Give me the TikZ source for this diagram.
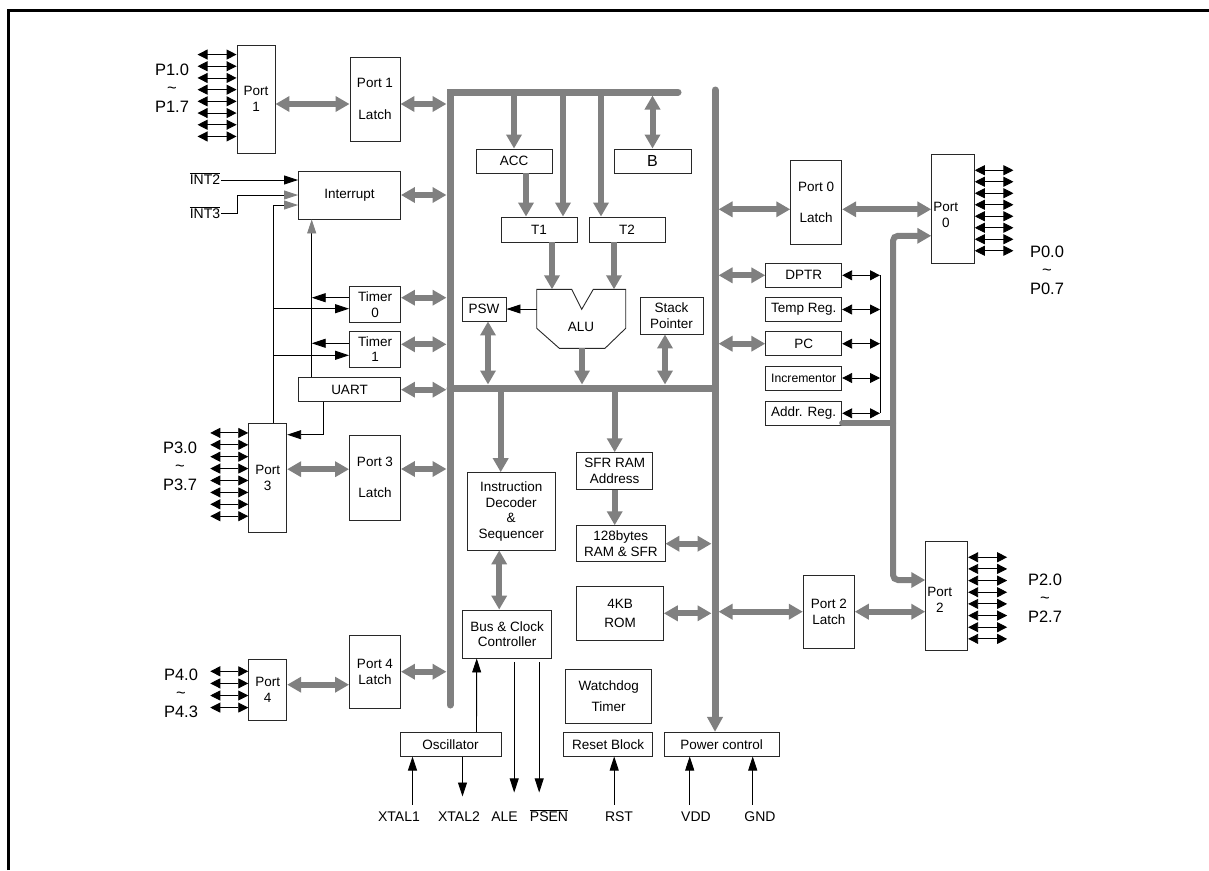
\documentclass[tikz,border=0pt]{standalone}
\usepackage{fontspec}
\setmainfont{Liberation Sans}
\usetikzlibrary{arrows.meta,calc}
\definecolor{busgray}{RGB}{128,128,128}
\definecolor{boxline}{RGB}{40,40,40}
\newcommand{\blkfont}{\fontsize{13.5}{15.5}\selectfont}
\newcommand{\smlfont}{\fontsize{12.2}{14}\selectfont}
\newcommand{\bigfont}{\fontsize{16}{18}\selectfont}
\newcommand{\pinfont}{\fontsize{16.5}{18.5}\selectfont}
\newcommand{\sigfont}{\fontsize{14}{16}\selectfont}
\tikzset{
  blk/.style 2 args={draw=boxline, line width=0.9pt, fill=white, font=\blkfont,
                     align=center, inner sep=1pt, minimum width=#1, minimum height=#2},
  plabel/.style={font=\pinfont, align=center, inner sep=0pt},
  slabel/.style={font=\sigfont, inner sep=1pt},
  busline/.style={draw=busgray, line width=7pt, line cap=round},
  gbi/.style={draw=busgray, line width=6pt,
              {Triangle[length=14pt,width=15pt]}-{Triangle[length=14pt,width=15pt]}},
  gone/.style={draw=busgray, line width=6pt, -{Triangle[length=14pt,width=15pt]}},
  sig/.style={draw=black, line width=0.9pt, -{Triangle[length=14pt,width=9pt]}},
  sigg/.style={draw=black, line width=0.9pt, -{Triangle[length=14pt,width=9pt,color=busgray]}},
  pin/.style={draw=black, line width=0.9pt,
              {Triangle[length=10pt,width=10pt]}-{Triangle[length=10pt,width=10pt]}},
}

\begin{document}
\begin{tikzpicture}[x=1pt, y=-1pt]
\useasboundingbox (0,0) rectangle (1209,870);

% frame
\draw[line width=3pt] (8,870) -- (8,10) -- (1209,10);

% bus corners and contact lines
\coordinate (lbb) at (450,705);
\coordinate (ltl) at (450,92);
\coordinate (ltr) at (678,92);
\coordinate (rtop) at (715,90);
\coordinate (mbl) at (450,388);
\coordinate (mbr) at (715,388);
\coordinate (lbus) at (446.5,0);
\coordinate (rbusl) at (711.5,0);
\coordinate (rbusr) at (718.5,0);
\coordinate (tbus) at (0,95.5);
\coordinate (mbust) at (0,384.5);

% Ports 1, 3, 4 with latches
\node[blk={38pt}{108pt}] (port1) at (256,99) {Port\\1};
\node[blk={50pt}{84pt}] (p1latch) at (375,99) {Port 1\\[16pt]Latch};
\node[blk={102pt}{48pt}] (intr) at (349.5,195) {Interrupt};
\node[blk={51pt}{36pt}] (timer0) at (375,304.7) {Timer\\0};
\node[blk={51pt}{36.7pt}] (timer1) at (375,349.3) {Timer\\1};
\node[blk={102pt}{24pt}] (uart) at (349.5,389.7) {UART};
\node[blk={38pt}{108.7pt}] (port3) at (267.7,477.7) {Port\\3};
\node[blk={51pt}{85pt}] (p3latch) at (375,477.5) {Port 3\\[16pt]Latch};
\node[blk={38pt}{60.7pt}] (port4) at (267.7,689.7) {Port\\4};
\node[blk={51pt}{73.3pt}] (p4latch) at (375,671.7) {Port 4\\Latch};

% CPU core
\node[blk={76pt}{24pt}] (acc) at (514,161) {ACC};
\node[blk={77pt}{24pt}, font=\bigfont] (breg) at (652.5,161) {B};
\node[blk={76pt}{25pt}] (t1) at (539,229.5) {T1};
\node[blk={76pt}{25pt}] (t2) at (627,229.5) {T2};
\node[blk={44pt}{24pt}] (psw) at (484,309) {PSW};
\node[blk={63pt}{37pt}] (sp) at (671.5,315.5) {Stack\\Pointer};
\draw[draw=boxline, line width=0.9pt, fill=white]
  (536.7,289.3) -- (571.7,289.3) -- (581.7,309.3) -- (593.3,289.3) -- (625.7,289.3)
  -- (625.7,328.3) -- (605,348.3) -- (559.3,348.3) -- (536.7,328.3) -- cycle;
\node[font=\blkfont] (alu) at (581,327) {ALU};
\coordinate (alutop) at (0,289.3);
\coordinate (alubot) at (582,348.3);
\coordinate (aluleft) at (536.7,0);

\node[blk={87.7pt}{77.3pt}] (idec) at (511.2,511.3) {Instruction\\Decoder\\\&\\Sequencer};
\node[blk={89pt}{48pt}] (busclk) at (507.2,634) {Bus \& Clock\\Controller};
\node[blk={76pt}{36.6pt}] (sfr) at (614.7,471) {SFR RAM\\Address};
\node[blk={88.3pt}{36pt}] (ram) at (620.8,543.7) {128bytes\\RAM \& SFR};
\node[blk={86.6pt}{53.3pt}] (rom) at (620,613.3) {4KB\\[3.5pt]ROM};
\node[blk={86pt}{54pt}] (wdt) at (608.7,696.3) {Watchdog\\[5.5pt]Timer};
\node[blk={101pt}{23.7pt}] (osc) at (450.5,744.2) {Oscillator};
\node[blk={89pt}{23.7pt}] (rst) at (608.2,744.2) {Reset Block};
\node[blk={114.7pt}{23.7pt}] (pwr) at (721.7,744.2) {Power control};

% Ports 0, 2 and address registers
\node[blk={51pt}{83.3pt}] (p0latch) at (816.2,202.3) {Port 0\\[16pt]Latch};
\node[blk={42.6pt}{109pt},
      label={[font=\blkfont, align=center, anchor=west, inner sep=2pt, yshift=-6pt]west:{Port\\0}}]
      (port0) at (953,208.8) {};
\node[blk={76pt}{24pt}] (dptr) at (803.7,275.3) {DPTR};
\node[blk={76pt}{24pt}] (tmpreg) at (803.7,309.5) {Temp Reg.};
\node[blk={76pt}{24pt}] (pc) at (803.7,343.7) {PC};
\node[blk={76pt}{24pt}, font=\smlfont] (incr) at (803.7,378) {Incrementor};
\node[blk={76pt}{24.7pt}] (addr) at (803.7,413.3) {Addr. Reg.};
\node[blk={51pt}{73.3pt}] (p2latch) at (828.8,611.7) {Port 2\\Latch};
\node[blk={42pt}{109pt},
      label={[font=\blkfont, align=center, anchor=west, inner sep=2pt, yshift=-4.5pt]west:{Port\\2}}]
      (port2) at (946.7,595.5) {};

% pin labels
\node[plabel] (p1lbl) at (172,88) {P1.0\\\textasciitilde\\P1.7};
\node[plabel] (p3lbl) at (180,466) {P3.0\\\textasciitilde\\P3.7};
\node[plabel] (p4lbl) at (181,693) {P4.0\\\textasciitilde\\P4.3};
\node[plabel] (p0lbl) at (1047,270) {P0.0\\\textasciitilde\\P0.7};
\node[plabel] (p2lbl) at (1045,598) {P2.0\\\textasciitilde\\P2.7};
\node[slabel, anchor=base] (int2) at (205,184) {$\overline{\mbox{INT2}}$};
\node[slabel, anchor=base] (int3) at (205,218.3) {$\overline{\mbox{INT3}}$};
\node[slabel, anchor=base] (xtal1) at (399,821) {XTAL1};
\node[slabel, anchor=base] (xtal2) at (459,821) {XTAL2};
\node[slabel, anchor=base] (ale) at (504.5,821) {ALE};
\node[slabel, anchor=base] (psen) at (549,821) {$\overline{\mbox{PSEN}}$};
\node[slabel, anchor=base] (rstlbl) at (619,821) {RST};
\node[slabel, anchor=base] (vdd) at (696,821) {VDD};
\node[slabel, anchor=base] (gnd) at (760,821) {GND};

% internal buses
\draw[busline] (lbb) -- (ltl) -- (ltr);
\draw[busline] (mbl) -- (mbr);
\draw[busline, -{Triangle[length=15pt,width=15pt]}] (rtop) -- (rtop |- pwr.north);

% left side to the bus
\draw[gbi] ($(port1.east)+(0,5)$) -- ($(p1latch.west)+(0,5)$);
\draw[gbi] ($(p1latch.east)+(0,5)$) -- ($(p1latch.east -| lbus)+(0,5)$);
\draw[gbi] (intr.east) -- (intr.east -| lbus);
\draw[gbi] ($(timer0.east)+(0,-7)$) -- ($(timer0.east -| lbus)+(0,-7)$);
\draw[gbi] ($(timer1.east)+(0,-5)$) -- ($(timer1.east -| lbus)+(0,-5)$);
\draw[gbi] (uart.east) -- (uart.east -| lbus);
\draw[gbi] ($(port3.east)+(0,-8.5)$) -- ($(port3.east -| p3latch.west)+(0,-8.5)$);
\draw[gbi] ($(p3latch.east)+(0,-8.5)$) -- ($(p3latch.east -| lbus)+(0,-8.5)$);
\draw[gbi] ($(port4.east)+(0,-5)$) -- ($(port4.east -| p4latch.west)+(0,-5)$);
\draw[gbi] (p4latch.east) -- (p4latch.east -| lbus);

% interrupt and timer lines
\coordinate (vint) at (273.3,0);
\coordinate (vtim) at (311.7,0);
\draw[sig] ($(timer0.west)+(0,-7)$) -- ($(timer0.west -| vtim)+(0,-7)$);
\draw[sig] ($(timer0.west -| vint)+(0,4)$) -- ($(timer0.west)+(0,4)$);
\draw[sig] ($(timer1.west)+(0,-6)$) -- ($(timer1.west -| vtim)+(0,-6)$);
\draw[sig] ($(timer1.west -| vint)+(0,6)$) -- ($(timer1.west)+(0,6)$);
\draw[sigg] (uart.north -| vtim) -- (intr.south -| vtim);
\draw[sigg] (port3.north -| vint) |- ($(intr.west)+(0,10)$);
\draw[sig] ($(int2.base east)+(0,-4)$) -- ($(int2.base east -| intr.west)+(0,-4)$);
\draw[sigg] ($(int3.base east)+(0,-5)$) -- ++(16,0) |- (intr.west);
\draw[sig] ($(uart.south)+(-26,0)$) |- ($(port3.east)+(0,-43)$);

% port pins
\foreach \k in {0,...,7} {
  \draw[pin] ($(port1.north west)+(-39,10+11.7*\k)$) -- ($(port1.north west)+(0,10+11.7*\k)$);
  \draw[pin] ($(port3.north west)+(-38,10+11.9*\k)$) -- ($(port3.north west)+(0,10+11.9*\k)$);
  \draw[pin] ($(port0.north east)+(0,16.4+11.5*\k)$) -- ($(port0.north east)+(38.7,16.4+11.5*\k)$);
  \draw[pin] ($(port2.north east)+(0,16.7+11.66*\k)$) -- ($(port2.north east)+(39,16.7+11.66*\k)$);
}
\foreach \k in {0,...,3}
  \draw[pin] ($(port4.north west)+(-38,12.4+12.1*\k)$) -- ($(port4.north west)+(0,12.4+12.1*\k)$);

% core data paths
\draw[gone] (acc.north |- ltl) -- (acc.north);
\draw[gbi] (breg.north |- tbus) -- (breg.north);
\draw[gone] ($(acc.south)+(12,0)$) -- ($(t1.north)+(-13,0)$);
\draw[gone] ($(t1.north |- ltl)+(24,0)$) -- ($(t1.north)+(24,0)$);
\draw[gone] ($(t2.north |- ltl)+(-26,0)$) -- ($(t2.north)+(-26,0)$);
\draw[gone] ($(t1.south)+(13,0)$) -- ($(t1.south |- alutop)+(13,0)$);
\draw[gone] ($(t2.south)+(-13,0)$) -- ($(t2.south |- alutop)+(-13,0)$);
\draw[sig] (psw.east -| aluleft) -- (psw.east);
\draw[gbi] ($(psw.south)+(4,0)$) -- ($(psw.south |- mbust)+(4,0)$);
\draw[gone] (alubot) -- (alubot |- mbust);
\draw[gbi] ($(sp.south)+(-6.5,0)$) -- ($(sp.south |- mbust)+(-6.5,0)$);

% decoder, memory
\draw[gone] ($(idec.north |- mbl)+(-10.5,0)$) -- ($(idec.north)+(-10.5,0)$);
\draw[gbi] ($(idec.south)+(-12,0)$) -- ($(busclk.north)+(-8,0)$);
\draw[gone] (sfr.north |- mbl) -- (sfr.north);
\draw[gone] (sfr.south) -- (sfr.south |- ram.north);
\draw[gbi] (ram.east) -- (ram.east -| rbusl);
\draw[gbi] (rom.east) -- (rom.east -| rbusl);
\draw[gbi] (p2latch.west -| rbusr) -- (p2latch.west);
\draw[gbi] (p2latch.east) -- (p2latch.east -| port2.west);

% right side
\draw[gbi] ($(p0latch.west -| rbusr)+(0,7)$) -- ($(p0latch.west)+(0,7)$);
\draw[gbi] ($(p0latch.east)+(0,7)$) -- ($(p0latch.east -| port0.west)+(0,7)$);
\draw[gbi] (dptr.west -| rbusr) -- (dptr.west);
\draw[gbi] (pc.west -| rbusr) -- (pc.west);
\coordinate (vreg) at (880,0);
\foreach \r in {dptr,tmpreg,pc,incr,addr}
  \draw[pin] (\r.east) -- (\r.east -| vreg);
\draw[line width=0.9pt] (dptr.east -| vreg) -- (addr.east -| vreg);

% address bus to ports 0 and 2
\coordinate (vaddr) at (893,0);
\coordinate (p0in) at ($(port0.west)+(0,27)$);
\coordinate (p2in) at ($(port2.west)+(0,-15.5)$);
\draw[busline, line width=6pt] ($(addr.south east)+(0,-3)$) -- ($(addr.south east -| vaddr)+(0,-3)$);
\draw[gone, rounded corners=5pt] ($(addr.south east -| vaddr)+(0,-3)$) |- (p0in);
\draw[gone, rounded corners=5pt] ($(addr.south east -| vaddr)+(0,-3)$) |- (p2in);

% clock, reset and power lines
\draw[sig] ($(osc.north)+(26,0)$) -- ($(busclk.south)+(-30.5,0)$);
\draw[sig] ($(osc.south)+(-38,48)$) -- ($(osc.south)+(-38,0)$);
\draw[sig] ($(osc.south)+(12,0)$) -- ($(osc.south)+(12,40)$);
\draw[sig] ($(busclk.south)+(7,4)$) -- ($(busclk.south)+(7,134)$);
\draw[sig] ($(busclk.south)+(32,4)$) -- ($(busclk.south)+(32,134)$);
\draw[sig] ($(rst.south)+(6,48)$) -- ($(rst.south)+(6,0)$);
\draw[sig] ($(pwr.south)+(-32,48)$) -- ($(pwr.south)+(-32,0)$);
\draw[sig] ($(pwr.south)+(31,48)$) -- ($(pwr.south)+(31,0)$);

\end{tikzpicture}
\end{document}
